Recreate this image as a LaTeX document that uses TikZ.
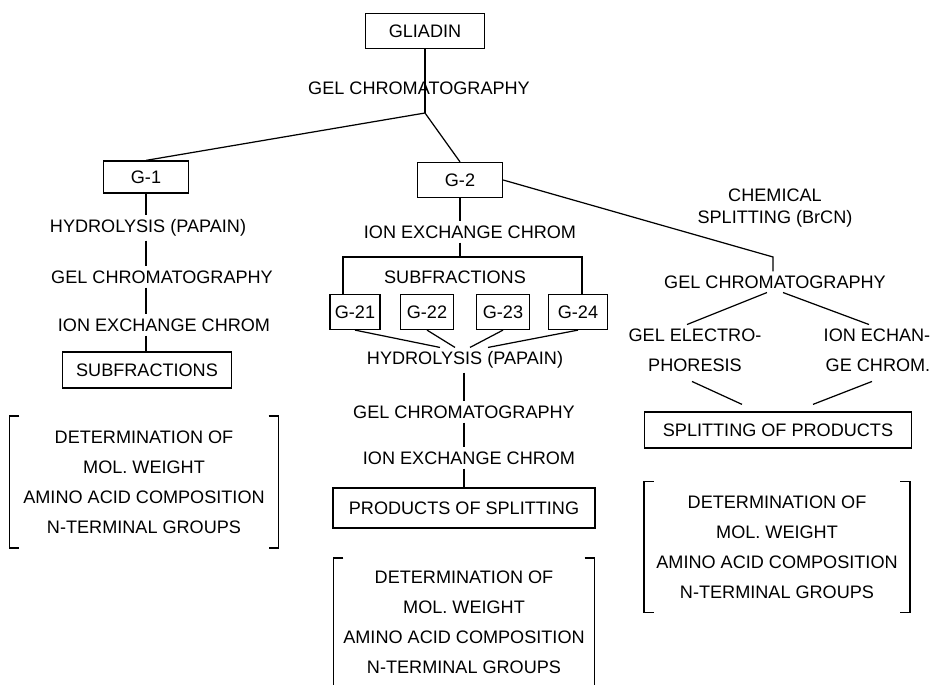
\documentclass[tikz,border=0pt]{standalone}
\usepackage{fontspec}
\setmainfont{Liberation Sans}
\usetikzlibrary{calc}

\tikzset{
  box/.style={draw, inner sep=2pt, minimum height=0.64cm},
  lbl/.style={inner sep=2pt},
  twoline/.style={lbl, font=\fontsize{10.3}{17}\selectfont},
  detblock/.style={align=center, inner sep=0pt, font=\fontsize{10.3}{17}\selectfont}
}

\begin{document}
\begin{tikzpicture}[x=0.02cm, y=-0.02cm, line width=0.7pt, font=\fontsize{10.3}{12}\selectfont]
  \useasboundingbox (0,0) rectangle (934,685);

  % top of the tree
  \node[box, minimum width=2.38cm, minimum height=0.7cm] (gliadin) at (425,31) {GLIADIN};
  \node[lbl] (gel0) at (419,88) {GEL CHROMATOGRAPHY};
  \coordinate (b0) at (425,113);
  \node[box, minimum width=1.7cm] (g1) at (146,177) {G-1};
  \node[box, minimum width=1.7cm, minimum height=0.7cm] (g2) at (460,180) {G-2};

  \draw (gliadin) -- (b0);
  \draw (b0) -- (g1.north);
  \draw (b0) -- (g2.north);

  % G-1 branch
  \node[lbl] (hyd1) at (148,228) {HYDROLYSIS (PAPAIN)};
  \node[lbl] (gel1) at (162,277) {GEL CHROMATOGRAPHY};
  \node[lbl] (ion1) at (164,325) {ION EXCHANGE CHROM};
  \node[box, minimum width=3.38cm, minimum height=0.72cm] (sub1) at (147,370) {SUBFRACTIONS};
  \foreach \a/\b in {g1/hyd1, hyd1/gel1, gel1/ion1, ion1/sub1}
    \draw (g1 |- \a.south) -- (g1 |- \b.north);

  \node[detblock, minimum width=5.36cm, minimum height=2.62cm] (det1) at (144,482)
    {DETERMINATION OF\\MOL. WEIGHT\\AMINO ACID COMPOSITION\\N-TERMINAL GROUPS};
  \draw ($(det1.north west)+(10,0)$) -- (det1.north west) -- (det1.south west) -- ($(det1.south west)+(10,0)$);
  \draw ($(det1.north east)+(-10,0)$) -- (det1.north east) -- (det1.south east) -- ($(det1.south east)+(-10,0)$);

  % G-2 branch
  \node[lbl] (ion2) at (470,232) {ION EXCHANGE CHROM};
  \coordinate (b2) at (460,257);
  \coordinate (s21) at (343,257);
  \coordinate (s24) at (582,257);
  \node[lbl] (sub2) at (455,277) {SUBFRACTIONS};
  \node[box, minimum width=1cm, minimum height=0.7cm] (g21) at (355,312) {G-21};
  \node[box, minimum width=1.06cm, minimum height=0.7cm] (g22) at (427,312) {G-22};
  \node[box, minimum width=1.06cm, minimum height=0.7cm] (g23) at (503,312) {G-23};
  \node[box, minimum width=1.18cm, minimum height=0.7cm] (g24) at (578,312) {G-24};

  \draw (g2) -- (g2 |- ion2.north);
  \draw (g2 |- ion2.south) -- (b2);
  \draw (s21 |- g21.north) -- (s21) -- (s24) -- (s24 |- g24.north);

  \node[lbl] (hyd2) at (465,360) {HYDROLYSIS (PAPAIN)};
  \foreach \g/\d in {g21/-25, g22/-10, g23/5, g24/23}
    \draw (\g.south) -- ($(hyd2.north)+(\d,0)$);

  \node[lbl] (gel2) at (464,412) {GEL CHROMATOGRAPHY};
  \node[lbl] (ion3) at (469,458) {ION EXCHANGE CHROM};
  \node[box, minimum width=5.24cm, minimum height=0.8cm] (prod) at (464,508) {PRODUCTS OF SPLITTING};
  \foreach \a/\b in {hyd2/gel2, gel2/ion3, ion3/prod}
    \draw (prod |- \a.south) -- (prod |- \b.north);

  \node[detblock, minimum width=5.2cm, minimum height=2.54cm] (det2) at (464,622)
    {DETERMINATION OF\\MOL. WEIGHT\\AMINO ACID COMPOSITION\\N-TERMINAL GROUPS};
  \draw ($(det2.north west)+(10,0)$) -- (det2.north west) -- (det2.south west);
  \draw ($(det2.north east)+(-10,0)$) -- (det2.north east) -- (det2.south east);

  % chemical splitting branch
  \node[lbl, align=center, font=\fontsize{10.3}{13}\selectfont] (chem) at (775,208) {CHEMICAL\\SPLITTING (BrCN)};
  \coordinate (c1) at (773,257);
  \node[lbl] (gel3) at (775,282) {GEL CHROMATOGRAPHY};
  \draw (g2.east) -- (c1) -- (c1 |- gel3.north);

  \node[twoline, align=center] (elec) at (695,350) {GEL ELECTRO-\\PHORESIS};
  \node[twoline, align=right] (ionech) at (877,350) {ION ECHAN-\\GE CHROM.};
  \draw ($(gel3.south)+(-8,0)$) -- ($(elec.north)+(-8,0)$);
  \draw ($(gel3.south)+(8,0)$) -- ($(ionech.north)+(-8,0)$);

  \node[box, minimum width=5.34cm, minimum height=0.72cm] (split) at (778,430) {SPLITTING OF PRODUCTS};
  \draw ($(elec.south)+(-3,6)$) -- ($(split.north)+(-36,-7)$);
  \draw ($(ionech.south)+(-5,6)$) -- ($(split.north)+(35,-7)$);

  \node[detblock, minimum width=5.3cm, minimum height=2.6cm] (det3) at (777,547)
    {DETERMINATION OF\\MOL. WEIGHT\\AMINO ACID COMPOSITION\\N-TERMINAL GROUPS};
  \draw ($(det3.north west)+(10,0)$) -- (det3.north west) -- (det3.south west) -- ($(det3.south west)+(10,0)$);
  \draw ($(det3.north east)+(-10,0)$) -- (det3.north east) -- (det3.south east) -- ($(det3.south east)+(-10,0)$);
\end{tikzpicture}
\end{document}
